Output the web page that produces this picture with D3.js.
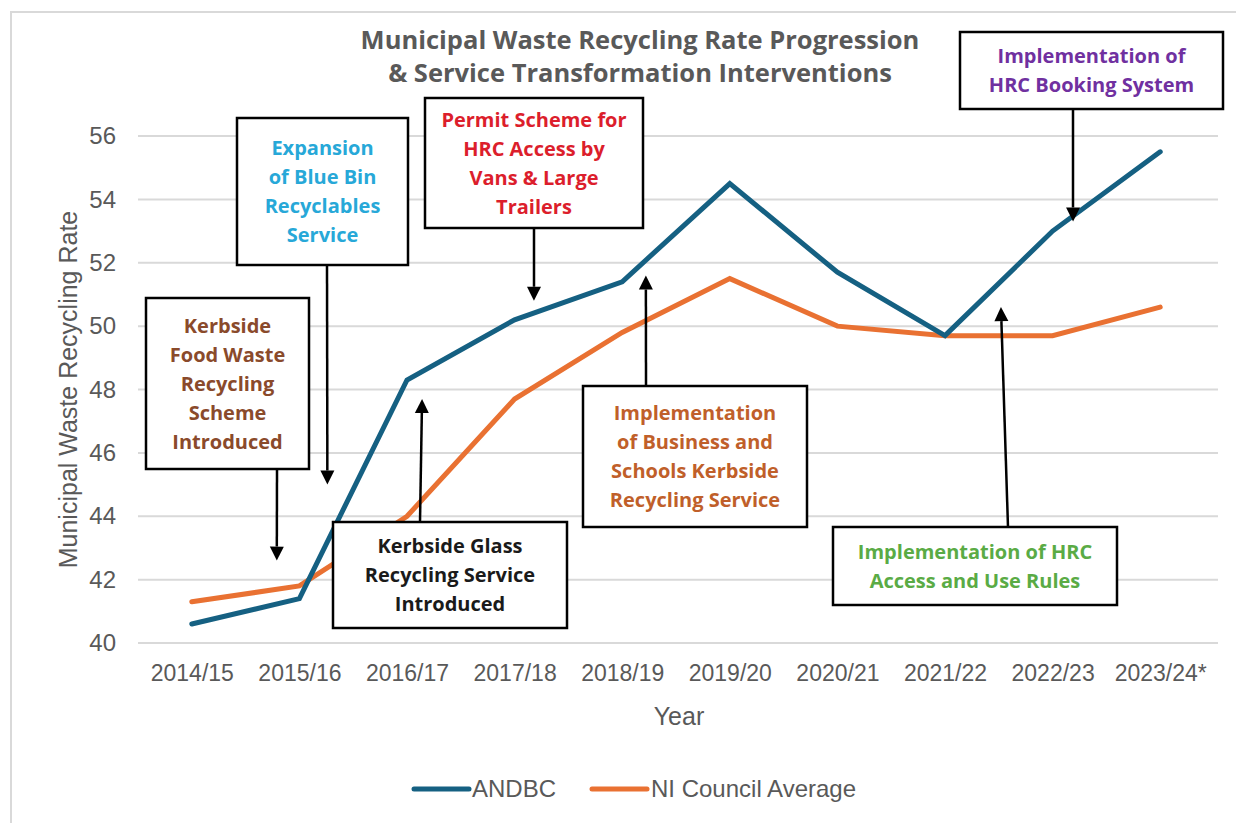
<!DOCTYPE html>
<html>
<head>
<meta charset="utf-8">
<script src="https://cdn.jsdelivr.net/npm/d3@7"></script>
<style>
  html, body { margin: 0; padding: 0; background: #ffffff; }
  svg { display: block; }
</style>
</head>
<body>
<svg id="chart" width="1236" height="823"></svg>
<script>
// ---- Data ----
const years = ["2014/15","2015/16","2016/17","2017/18","2018/19","2019/20","2020/21","2021/22","2022/23","2023/24*"];
const andbc = [40.6, 41.4, 48.3, 50.2, 51.4, 54.5, 51.7, 49.7, 53.0, 55.5];
const niAverage = [41.3, 41.8, 44.0, 47.7, 49.8, 51.5, 50.0, 49.7, 49.7, 50.6];
const yTicks = [40, 42, 44, 46, 48, 50, 52, 54, 56];
const seriesNames = ["ANDBC", "NI Council Average"];
const seriesColors = ["#156082", "#E97132"];
const titleLines = ["Municipal Waste Recycling Rate Progression", "& Service Transformation Interventions"];
const yTitle = "Municipal Waste Recycling Rate";
const xTitle = "Year";

// Annotations: text, colour, arrow tip in data space (fractional category index, value)
const annoLines = [
  ["Kerbside", "Food Waste", "Recycling", "Scheme", "Introduced"],
  ["Expansion", "of Blue Bin", "Recyclables", "Service"],
  ["Permit Scheme for", "HRC Access by", "Vans & Large", "Trailers"],
  ["Kerbside Glass", "Recycling Service", "Introduced"],
  ["Implementation", "of Business and", "Schools Kerbside", "Recycling Service"],
  ["Implementation of HRC", "Access and Use Rules"],
  ["Implementation of", "HRC Booking System"]
];
const annoColors = ["#8a4a2b", "#27a8d8", "#dc1e2c", "#1a1a1a", "#c05f2a", "#5aab45", "#7030a0"];
const annoTipIdx = [0.79, 1.26, 3.18, 2.14, 4.22, 7.52, 8.19];
const annoTipVal = [42.6, 45.0, 50.8, 47.7, 51.6, 50.6, 53.3];

// ---- Layout (pixels) ----
const annoBoxes = [
  {x0:146, y0:298, x1:309, y1:469, baseX:277},
  {x0:237, y0:118, x1:408, y1:265, baseX:327},
  {x0:425, y0:98,  x1:643, y1:228, baseX:534},
  {x0:333, y0:522, x1:567, y1:628, baseX:420},
  {x0:583, y0:386, x1:807, y1:527, baseX:646},
  {x0:833, y0:527, x1:1117, y1:605, baseX:1008},
  {x0:960, y0:32,  x1:1223, y1:109, baseX:1073}
];

const svg = d3.select("#chart");
const W = 1236, H = 823;
const plot = {left: 138, right: 1214, top: 136, bottom: 643};
const axisFont = "Liberation Sans, Arial, sans-serif";
const textGrey = "#595959";

// frame
svg.append("rect").attr("x", 11).attr("y", 12).attr("width", W + 20).attr("height", H + 20)
  .attr("fill", "#ffffff").attr("stroke", "#d9d9d9").attr("stroke-width", 2);

const x = d3.scalePoint().domain(years).range([plot.left, plot.right]).padding(0.5);
const y = d3.scaleLinear().domain([40, 56]).range([plot.bottom, plot.top]);
const step = x.step();
const xIdx = i => x(years[0]) + i * step;

// gridlines
svg.append("g").selectAll("line").data(yTicks).join("line")
  .attr("x1", plot.left).attr("x2", plot.right + 4)
  .attr("y1", d => y(d)).attr("y2", d => y(d))
  .attr("stroke", "#d9d9d9").attr("stroke-width", 2);

// y axis labels
const yAxis = d3.axisLeft(y).tickValues(yTicks).tickSize(0).tickPadding(0).tickFormat(d3.format("d"));
const gy = svg.append("g").attr("transform", `translate(${116},0)`).call(yAxis);
gy.select(".domain").remove();
gy.selectAll("text").attr("font-family", axisFont).attr("font-size", 24).attr("fill", textGrey);

// x axis labels
const xAxis = d3.axisBottom(x).tickSize(0).tickPadding(0);
const gx = svg.append("g").attr("transform", `translate(0,${plot.bottom + 22})`).call(xAxis);
gx.select(".domain").remove();
gx.selectAll("text").attr("font-family", axisFont).attr("font-size", 23).attr("fill", textGrey);

// axis titles
svg.append("text").attr("transform", `translate(77,${(plot.top + plot.bottom) / 2}) rotate(-90)`)
  .attr("text-anchor", "middle").attr("font-family", axisFont)
  .attr("font-size", 25).attr("fill", textGrey).text(yTitle);
svg.append("text").attr("x", 679).attr("y", 725).attr("text-anchor", "middle")
  .attr("font-family", axisFont).attr("font-size", 25).attr("fill", textGrey).text(xTitle);

// title
svg.append("text").attr("x", 640).attr("y", 49).attr("text-anchor", "middle")
  .attr("font-family", "Open Sans, sans-serif").attr("font-weight", 700)
  .attr("font-size", 25.5).attr("fill", textGrey)
  .selectAll("tspan").data(titleLines).join("tspan")
  .attr("x", 640).attr("dy", (d, i) => i === 0 ? 0 : 33).text(d => d);

// lines (orange first, blue on top)
const lineGen = d3.line().x((d, i) => x(years[i])).y(d => y(d));
[niAverage, andbc].forEach((s, k) => {
  svg.append("path").datum(s).attr("d", lineGen).attr("fill", "none")
    .attr("stroke", seriesColors[1 - k]).attr("stroke-width", 5)
    .attr("stroke-linejoin", "miter").attr("stroke-linecap", "round");
});

// annotations
const ag = svg.append("g");
annoBoxes.forEach((b, i) => {
  const tipX = xIdx(annoTipIdx[i]);
  const tipY = y(annoTipVal[i]);
  const down = tipY > b.y1;
  const baseY = down ? b.y1 : b.y0;
  const headLen = 14, headW = 7;
  const ang = Math.atan2(tipY - baseY, tipX - b.baseX);
  const lx = tipX - Math.cos(ang) * headLen, ly = tipY - Math.sin(ang) * headLen;
  ag.append("line").attr("x1", b.baseX).attr("y1", baseY).attr("x2", lx).attr("y2", ly)
    .attr("stroke", "#000").attr("stroke-width", 2.5);
  const px = -Math.sin(ang) * headW, py = Math.cos(ang) * headW;
  ag.append("path").attr("d", `M${tipX},${tipY}L${lx + px},${ly + py}L${lx - px},${ly - py}Z`).attr("fill", "#000");

  ag.append("rect").attr("x", b.x0).attr("y", b.y0).attr("width", b.x1 - b.x0).attr("height", b.y1 - b.y0)
    .attr("fill", "#ffffff").attr("stroke", "#000").attr("stroke-width", 2.5);
  const lines = annoLines[i];
  const lh = 29;
  const cx = (b.x0 + b.x1) / 2, cy = (b.y0 + b.y1) / 2;
  const startY = cy - (lines.length - 1) * lh / 2;
  ag.append("text").attr("text-anchor", "middle").attr("font-family", "Open Sans, sans-serif")
    .attr("font-weight", 700).attr("font-size", 20).attr("fill", annoColors[i])
    .selectAll("tspan").data(lines).join("tspan")
    .attr("x", cx).attr("y", (d, j) => startY + j * lh).attr("dy", "0.35em").text(d => d);
});

// legend
const lg = svg.append("g");
const legendItems = [{x: 414, tx: 472}, {x: 592, tx: 651}];
seriesNames.forEach((n, k) => {
  lg.append("line").attr("x1", legendItems[k].x).attr("x2", legendItems[k].x + 55)
    .attr("y1", 789).attr("y2", 789).attr("stroke", seriesColors[k])
    .attr("stroke-width", 5).attr("stroke-linecap", "round");
  lg.append("text").attr("x", legendItems[k].tx).attr("y", 789).attr("dy", "0.35em")
    .attr("font-family", axisFont).attr("font-size", 24)
    .attr("fill", textGrey).text(n);
});
</script>
</body>
</html>
